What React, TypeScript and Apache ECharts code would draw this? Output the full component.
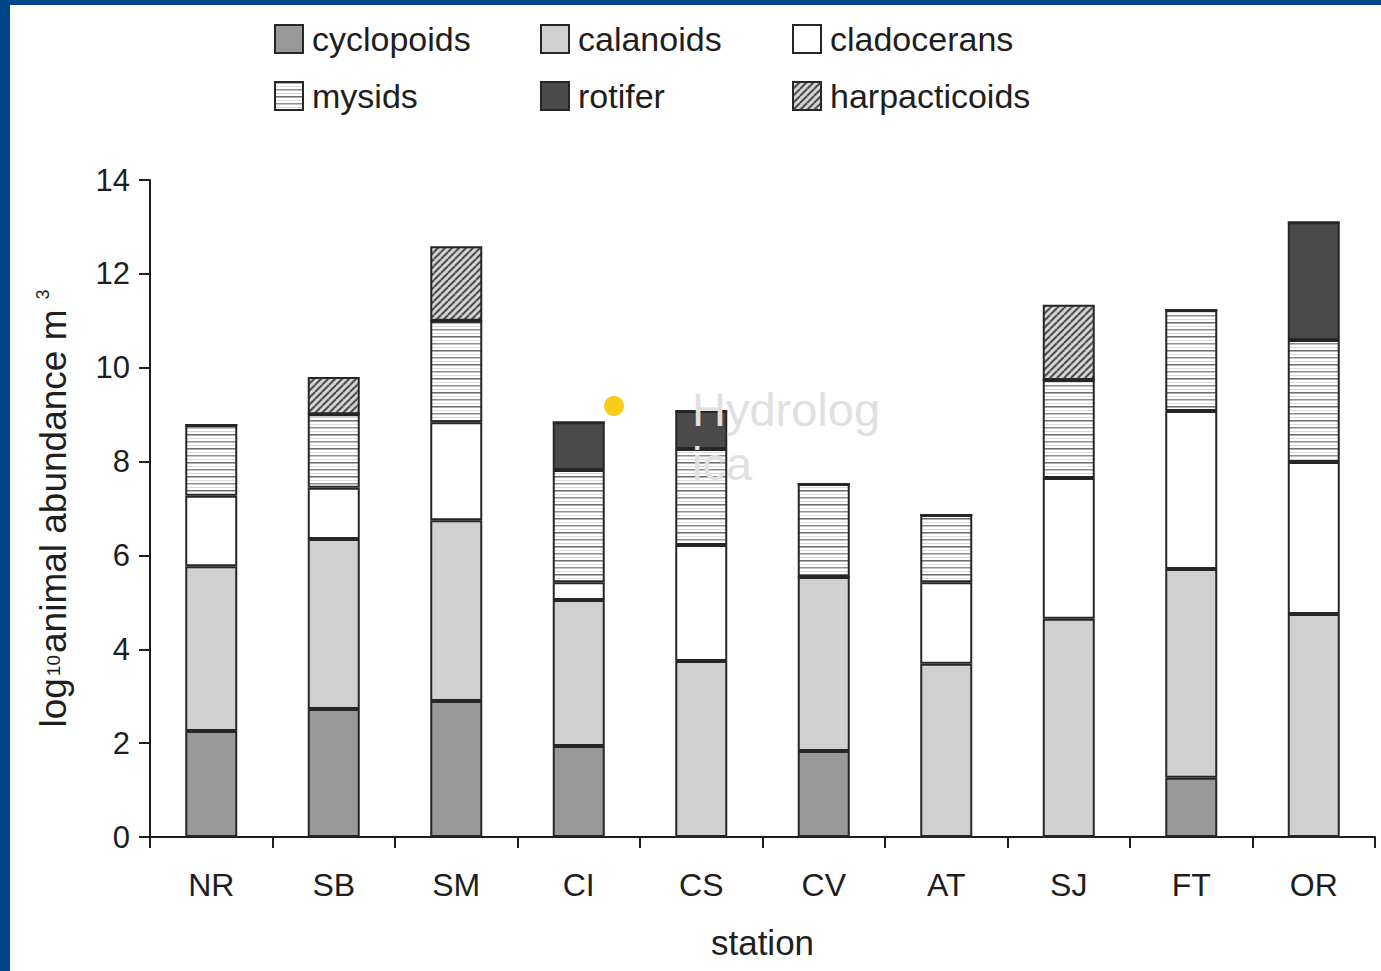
import { useEffect, useRef } from 'react';
import * as echarts from 'echarts';

// Sampling stations along the estuary
const stations = ['NR', 'SB', 'SM', 'CI', 'CS', 'CV', 'AT', 'SJ', 'FT', 'OR'];

// log10 abundance contributions per taxon (stacked)
const cyclopoids = [2.26, 2.73, 2.9, 1.94, 0, 1.83, 0, 0, 1.26, 0];
const calanoids = [3.51, 3.62, 3.85, 3.11, 3.75, 3.71, 3.69, 4.65, 4.45, 4.75];
const cladocerans = [1.5, 1.09, 2.09, 0.38, 2.47, 0, 1.74, 3.0, 3.37, 3.24];
const mysids = [1.51, 1.57, 2.16, 2.39, 2.05, 1.98, 1.43, 2.09, 2.15, 2.6];
const rotifer = [0, 0, 0, 1.02, 0.81, 0, 0, 0, 0, 2.51];
const harpacticoids = [0, 0.79, 1.59, 0, 0, 0, 0, 1.6, 0, 0];

const legendColumns = [
  ['cyclopoids', 'mysids'],
  ['calanoids', 'rotifer'],
  ['cladocerans', 'harpacticoids'],
];

const FONT = '"Liberation Sans", Arial, Helvetica, sans-serif';
const INK = '#1e1e1e';

function stripePattern() {
  const c = document.createElement('canvas');
  c.width = 8;
  c.height = 14;
  const ctx = c.getContext('2d')!;
  ctx.fillStyle = '#ffffff';
  ctx.fillRect(0, 0, 8, 14);
  const rows: [number, string][] = [
    [0, '#6e6e6e'],
    [1, '#b0b0b0'],
    [4, '#dedede'],
    [7, '#8e8e8e'],
    [8, '#c4c4c4'],
    [11, '#d8d8d8'],
  ];
  rows.forEach(([y, col]) => {
    ctx.fillStyle = col;
    ctx.fillRect(0, y, 8, 1);
  });
  return { image: c.toDataURL(), repeat: 'repeat', imageWidth: 8, imageHeight: 14 };
}

function hatchPattern() {
  const s = 7;
  const c = document.createElement('canvas');
  c.width = s;
  c.height = s;
  const ctx = c.getContext('2d')!;
  ctx.fillStyle = '#c0c0c0';
  ctx.fillRect(0, 0, s, s);
  ctx.strokeStyle = '#444444';
  ctx.lineWidth = 1.7;
  for (let k = -1; k <= 1; k++) {
    ctx.beginPath();
    ctx.moveTo(k * s, s);
    ctx.lineTo(k * s + s, 0);
    ctx.stroke();
  }
  ctx.strokeStyle = '#f2f2f2';
  ctx.lineWidth = 1;
  for (let k = -1; k <= 1; k++) {
    ctx.beginPath();
    ctx.moveTo(k * s + s / 2, s);
    ctx.lineTo(k * s + s / 2 + s, 0);
    ctx.stroke();
  }
  return { image: c.toDataURL(), repeat: 'repeat', imageWidth: s, imageHeight: s };
}

export default function App() {
  const ref = useRef<HTMLDivElement>(null);

  useEffect(() => {
    document.body.style.margin = '0';
    const chart = echarts.init(ref.current!, null, { renderer: 'svg' });

    const border = { borderColor: '#262626', borderWidth: 2 };
    const fills: Record<string, any> = {
      cyclopoids: '#999999',
      calanoids: '#d0d0d0',
      cladocerans: '#ffffff',
      mysids: stripePattern(),
      rotifer: '#4a4a4a',
      harpacticoids: hatchPattern(),
    };
    const values: Record<string, number[]> = {
      cyclopoids,
      calanoids,
      cladocerans,
      mysids,
      rotifer,
      harpacticoids,
    };
    const order = ['cyclopoids', 'calanoids', 'cladocerans', 'mysids', 'rotifer', 'harpacticoids'];

    const legendLefts = [274, 540, 792];

    chart.setOption({
      animation: false,
      backgroundColor: '#ffffff',
      textStyle: { fontFamily: FONT },
      legend: legendColumns.map((names, i) => ({
        data: names,
        orient: 'vertical',
        left: legendLefts[i],
        top: 22,
        padding: 0,
        itemWidth: 28,
        itemHeight: 28,
        itemGap: 23,
        icon: 'rect',
        selectedMode: false,
        textStyle: { fontSize: 34, color: INK, fontFamily: FONT, padding: [0, 0, 0, 4] },
      })),
      grid: { left: 150, right: 6, top: 180, bottom: 134 },
      xAxis: {
        type: 'category',
        data: stations,
        name: 'station',
        nameLocation: 'middle',
        nameGap: 88,
        nameTextStyle: { fontSize: 35, color: INK, fontFamily: FONT },
        axisLine: { lineStyle: { color: INK, width: 2 } },
        axisTick: { show: true, alignWithLabel: false, length: 11, lineStyle: { color: INK, width: 2 } },
        axisLabel: { fontSize: 32, color: INK, margin: 32, fontFamily: FONT, interval: 0 },
      },
      yAxis: {
        type: 'value',
        min: 0,
        max: 14,
        interval: 2,
        name: '{a|log}{b|10}{a|animal abundance m}{c|3}',
        nameLocation: 'middle',
        nameGap: 78,
        nameRotate: 90,
        nameTextStyle: {
          color: INK,
          fontFamily: FONT,
          rich: {
            a: { fontSize: 37, color: INK, fontFamily: FONT },
            b: { fontSize: 19, color: INK, fontFamily: FONT, padding: [0, 2, 0, 2] },
            c: { fontSize: 18, color: INK, fontFamily: FONT, verticalAlign: 'top', padding: [0, 0, 20, 10] },
          },
        },
        splitLine: { show: false },
        axisLine: { show: true, lineStyle: { color: INK, width: 2 } },
        axisTick: { show: true, length: 11, lineStyle: { color: INK, width: 2 } },
        axisLabel: { fontSize: 31, color: INK, margin: 20, fontFamily: FONT },
      },
      series: order.map((name) => ({
        name,
        type: 'bar',
        stack: 'total',
        barWidth: 52,
        data: values[name],
        itemStyle: { color: fills[name], ...border },
        emphasis: { disabled: true },
      })),
      graphic: [
        { type: 'rect', left: 0, top: 0, shape: { width: 10, height: 971 }, style: { fill: '#00468b' }, z: 100 },
        { type: 'rect', left: 0, top: 0, shape: { width: 1381, height: 5 }, style: { fill: '#00468b' }, z: 100 },
        {
          type: 'text',
          x: 692,
          y: 382,
          style: {
            text: 'Hydrolog\nica',
            fill: '#e0e0e0',
            fontSize: 47,
            lineHeight: 54,
            fontFamily: FONT,
          },
          z: 100,
        },
        { type: 'circle', shape: { cx: 614, cy: 406, r: 10 }, style: { fill: '#f8cc1b' }, z: 100 },
      ],
    });

    return () => chart.dispose();
  }, []);

  return <div ref={ref} style={{ width: 1381, height: 971 }} />;
}
